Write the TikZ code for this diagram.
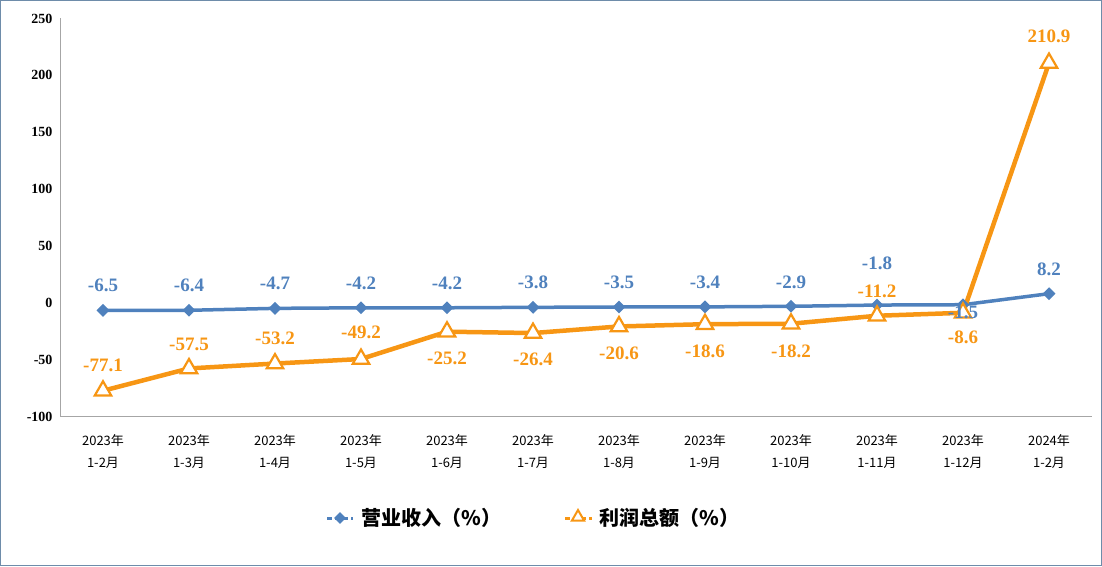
\documentclass[tikz,border=0pt]{standalone}
\usepackage{fontspec}
\setmainfont{Liberation Serif}
\newfontfamily\cjk{Noto Sans CJK SC}
\usetikzlibrary{shapes.geometric}
\definecolor{bl}{RGB}{79,129,189}
\definecolor{og}{RGB}{247,150,20}
\definecolor{frame}{RGB}{110,140,170}
\tikzset{
  dia/.style={diamond,fill=bl,inner sep=0pt,minimum size=13pt},
  tri/.style={regular polygon,regular polygon sides=3,draw=og,line width=2.2pt,fill=white,inner sep=0pt,minimum size=19pt},
  blab/.style={text=bl,font=\bfseries\fontsize{19}{19}\selectfont},
  olab/.style={text=og,font=\bfseries\fontsize{19}{19}\selectfont},
  tick/.style={font=\bfseries\fontsize{14}{14}\selectfont,anchor=east},
  cat/.style={font=\cjk\fontsize{13}{22}\selectfont,align=center},
  bline/.style={bl,line width=3.5pt},
  oline/.style={og,line width=4.5pt,line join=round},
}
\begin{document}
\begin{tikzpicture}[x=1pt,y=-1pt]
\useasboundingbox (0,0) rectangle (1102,566);
\draw[frame,line width=1pt] (0.5,0.5) rectangle (1101.5,565.5);
\draw[gray!70,line width=0.8pt] (60,18) -- (60,416) -- (1092,416);
\foreach \v in {250,200,150,100,50,0,-50,-100}
  \node[tick] (t\v) at (56,{303-1.138*\v}) {\v};
\foreach \i/\yr/\m in {0/2023/1-2,1/2023/1-3,2/2023/1-4,3/2023/1-5,4/2023/1-6,5/2023/1-7,6/2023/1-8,7/2023/1-9,8/2023/1-10,9/2023/1-11,10/2023/1-12,11/2024/1-2}
  \node[cat] (c\i) at ({103+86*\i},452) {\yr 年\\\m 月};
\def\bv{{-6.5,-6.4,-4.7,-4.2,-4.2,-3.8,-3.5,-3.4,-2.9,-1.8,-1.5,8.2}}
\def\ov{{-77.1,-57.5,-53.2,-49.2,-25.2,-26.4,-20.6,-18.6,-18.2,-11.2,-8.6,210.9}}
\foreach \i in {0,...,11}{
  \pgfmathsetmacro\yb{303-1.138*\bv[\i]}
  \pgfmathsetmacro\yo{303-1.138*\ov[\i]}
  \coordinate (b\i) at ({103+86*\i},\yb);
  \coordinate (o\i) at ({103+86*\i},\yo);
}
\draw[bline] (b0) \foreach \i in {1,...,11}{-- (b\i)};
\draw[oline] (o0) \foreach \i in {1,...,11}{-- (o\i)};
\foreach \i in {0,...,11}{
  \node[dia] (bd\i) at (b\i) {};
  \node[tri] (ot\i) at (o\i) {};
}
\foreach \i/\t/\y in {0/-6.5/285,1/-6.4/285,2/-4.7/283,3/-4.2/283,4/-4.2/283,5/-3.8/282,6/-3.5/282,7/-3.4/282,8/-2.9/282,9/-1.8/263,10/-1.5/312,11/8.2/269}
  \node[blab] (bl\i) at ({103+86*\i},\y) {\t};
\foreach \i/\t/\y in {0/-77.1/365,1/-57.5/344,2/-53.2/338,3/-49.2/332,4/-25.2/358,5/-26.4/359,6/-20.6/353,7/-18.6/351,8/-18.2/351,9/-11.2/291,10/-8.6/337,11/210.9/36}
  \node[olab] (ol\i) at ({103+86*\i},\y) {\t};
\coordinate (l1a) at (327,518); \coordinate (l1b) at (353,518);
\draw[bl,line width=3pt,dash pattern=on 5pt off 3pt] (l1a) -- (l1b);
\node[dia,minimum size=12pt] (ld1) at (340,518) {};
\node[anchor=west,font=\cjk\bfseries\fontsize{20}{20}\selectfont] (lt1) at (358,518) {营业收入（\%）};
\coordinate (l2a) at (565,518); \coordinate (l2b) at (592,518);
\draw[og,line width=3pt,dash pattern=on 5pt off 3pt] (l2a) -- (l2b);
\node[tri,minimum size=14pt,line width=2pt] (ld2) at (578,517) {};
\node[anchor=west,font=\cjk\bfseries\fontsize{20}{20}\selectfont] (lt2) at (596,518) {利润总额（\%）};
\end{tikzpicture}
\end{document}
